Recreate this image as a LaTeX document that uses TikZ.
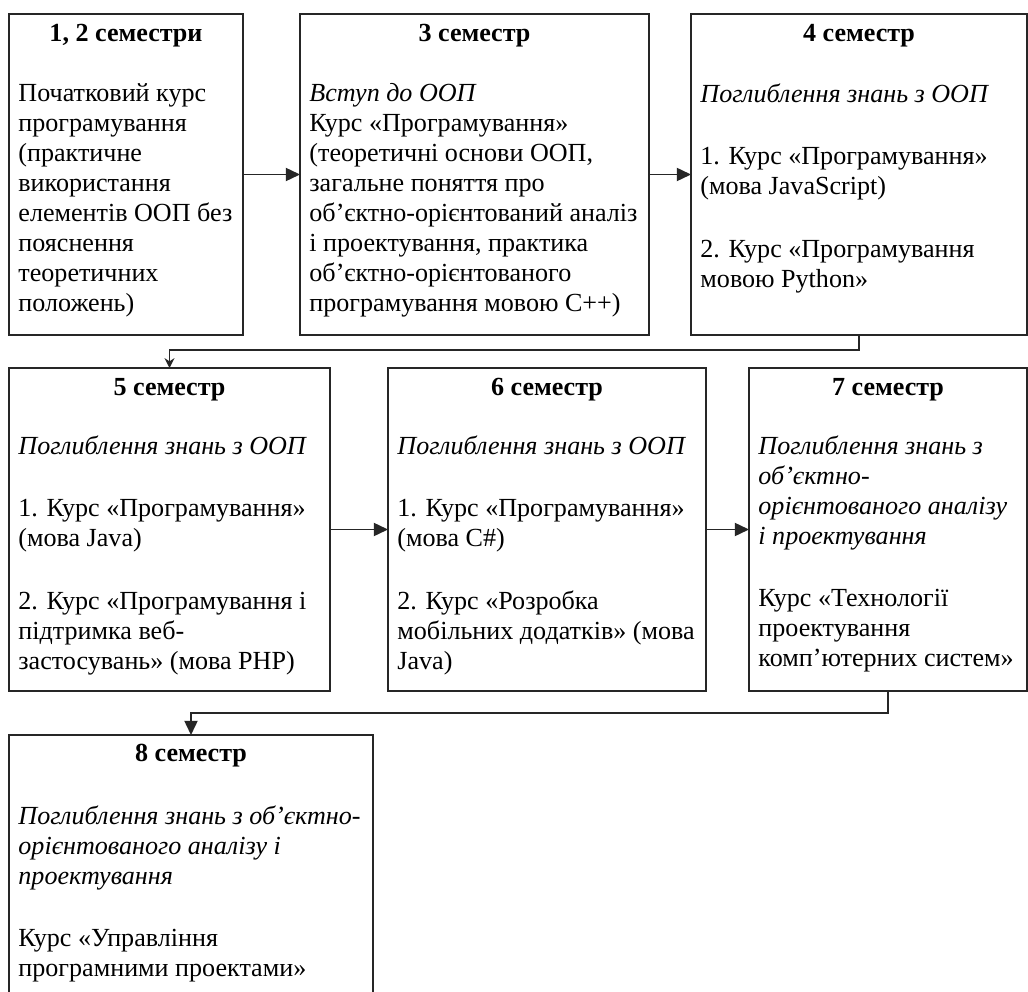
\documentclass[tikz,border=0pt]{standalone}
\usepackage{fontspec}
\setmainfont{Liberation Serif}
\usetikzlibrary{arrows.meta,calc}
\newcommand\semBox[5]{\node[box, minimum width={(#4-#2)*0.46pt}, minimum height={(#5-#3)*0.46pt}] (#1) at (#2,#3) {};}
\begin{document}
\begin{tikzpicture}[x=0.46pt,y=-0.46pt,
  box/.style={draw=black!85, line width=0.8pt, anchor=north west, inner sep=0pt, outer sep=0pt},
  hdr/.style={font=\bfseries\fontsize{12}{13.8}\selectfont, inner sep=0pt},
  body/.style={font=\fontsize{12}{13.8}\selectfont, align=left, anchor=north west, inner sep=0pt},
  arr/.style={draw=black!85, line width=0.8pt, -{Triangle[length=6.5pt,width=6pt]}},
  arrsmall/.style={draw=black!85, line width=0.8pt, -{Stealth[length=4.5pt,width=4.5pt]}}]
\clip (0,0) rectangle (1028,992);
\fill[white] (0,0) rectangle (1028,992);
% boxes
\semBox{b1}{9}{14}{243}{335}
\semBox{b3}{300}{14}{649}{335}
\semBox{b4}{691}{14}{1027}{335}
\semBox{b5}{9}{368}{330}{691}
\semBox{b6}{388}{368}{706}{691}
\semBox{b7}{749}{368}{1027}{691}
\semBox{b8}{9}{735}{373}{1010}
% headers
\node[hdr] (h1) at ($(b1.north)+(0,22)$) {1, 2 семестри};
\node[hdr] (h3) at ($(b3.north)+(0,22)$) {3 семестр};
\node[hdr] (h4) at ($(b4.north)+(0,22)$) {4 семестр};
\node[hdr] (h5) at ($(b5.north)+(0,22)$) {5 семестр};
\node[hdr] (h6) at ($(b6.north)+(0,22)$) {6 семестр};
\node[hdr] (h7) at ($(b7.north)+(0,22)$) {7 семестр};
\node[hdr] (h8) at ($(b8.north)+(0,21)$) {8 семестр};
% bodies
\node[body] (t1) at ($(b1.north west)+(9,69)$) {Початковий курс\\програмування\\(практичне\\використання\\елементів ООП без\\пояснення\\теоретичних\\положень)};
\node[body] (t3) at ($(b3.north west)+(9,69)$) {\textit{Вступ до ООП}\\Курс «Програмування»\\(теоретичні основи ООП,\\загальне поняття про\\об’єктно-орієнтований аналіз\\і проектування, практика\\об’єктно-орієнтованого\\програмування мовою С++)};
\node[body] (t4) at ($(b4.north west)+(9,69)$) {\textit{Поглиблення знань з ООП}\\[15pt]1. Курс «Програмування»\\(мова JavaScript)\\[15pt]2. Курс «Програмування\\мовою Python»};
\node[body] (t5) at ($(b5.north west)+(9,67)$) {\textit{Поглиблення знань з ООП}\\[15pt]1. Курс «Програмування»\\(мова Java)\\[15pt]2. Курс «Програмування і\\підтримка веб-\\застосувань» (мова PHP)};
\node[body] (t6) at ($(b6.north west)+(9,67)$) {\textit{Поглиблення знань з ООП}\\[15pt]1. Курс «Програмування»\\(мова C\#)\\[15pt]2. Курс «Розробка\\мобільних додатків» (мова\\Java)};
\node[body] (t7) at ($(b7.north west)+(9,67)$) {\textit{Поглиблення знань з}\\\textit{об’єктно-}\\\textit{орієнтованого аналізу}\\\textit{і проектування}\\[15pt]Курс «Технології\\проектування\\комп’ютерних систем»};
\node[body] (t8) at ($(b8.north west)+(9,70)$) {\textit{Поглиблення знань з об’єктно-}\\\textit{орієнтованого аналізу і}\\\textit{проектування}\\[15pt]Курс «Управління\\програмними проектами»};
% connectors
\draw[arr] (b1) -- (b3);
\draw[arr] (b3) -- (b4);
\draw[arr] (b5) -- (b6);
\draw[arr] (b6) -- (b7);
\draw[arrsmall] (b4.south) -- ++(0,15) -| (b5.north);
\draw[arr] (b7.south) -- ++(0,22) -| (b8.north);
\end{tikzpicture}
\end{document}
